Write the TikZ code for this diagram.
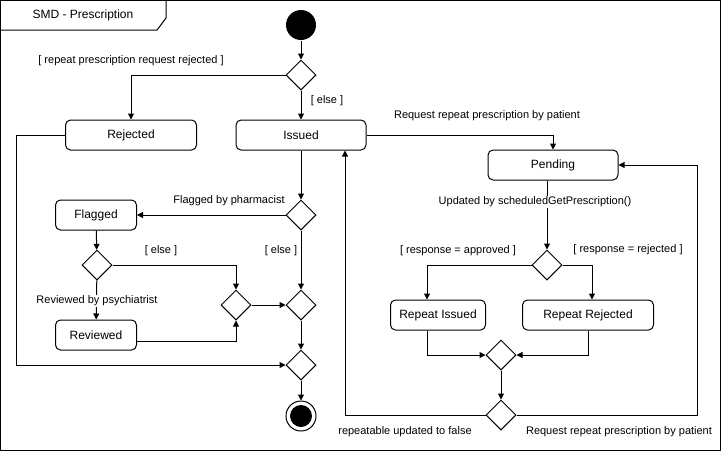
\documentclass[tikz,border=0pt]{standalone}
\usepackage{fontspec}
\setmainfont{Liberation Sans}
\usetikzlibrary{arrows.meta,shapes.geometric}
\tikzset{
  actbox/.style={draw, rounded corners=5pt, minimum height=30pt, inner sep=2pt, font=\fontsize{12}{14}\selectfont},
  decide/.style={draw, diamond, inner sep=0pt, minimum width=30pt, minimum height=30pt},
  lbl/.style={font=\fontsize{11}{13}\selectfont, inner sep=1pt},
  flow/.style={-{Triangle[length=6pt,width=6pt]}},
}
\begin{document}
\begin{tikzpicture}[x=1pt, y=-1pt, line width=1pt]
			\useasboundingbox (0,0) rectangle (721,451);
			\draw (0.5,0.5) rectangle (720.5,450.5);
			\draw (0.5,30) -- (157,30) -- (166,18) -- (166,0.5);
			\node[font=\fontsize{12}{14}\selectfont] (title) at (83,15) {SMD - Prescription};

			\node[circle, fill, minimum size=30pt, inner sep=0pt] (start) at (301,25) {};
			\node[decide] (d1) at (301,75) {};
			\node[actbox, minimum width=131pt] (rej) at (131,135) {Rejected};
			\node[actbox, minimum width=130pt] (iss) at (301,135) {Issued};
			\node[actbox, minimum width=130pt] (pend) at (553,165) {Pending};
			\node[decide] (d2) at (301,215) {};
			\node[actbox, minimum width=81pt] (flag) at (96,215) {Flagged};
			\node[decide] (d3) at (97,265) {};
			\node[actbox, minimum width=81pt] (rev) at (96,335) {Reviewed};
			\node[decide] (m1) at (236,305) {};
			\node[decide] (m2) at (301,305) {};
			\node[decide] (m3) at (301,365) {};
			\node[circle, draw, minimum size=30pt, inner sep=0pt] (stop) at (301,416) {};
			\node[circle, fill, minimum size=22pt, inner sep=0pt] (stopdot) at (stop) {};

			\node[decide] (d4) at (547,265) {};
			\node[actbox, minimum width=95pt] (rissue) at (438,315) {Repeat Issued};
			\node[actbox, minimum width=131pt] (rrej) at (588,315) {Repeat Rejected};
			\node[decide] (m4) at (501,355) {};
			\node[decide] (d5) at (501,415) {};

			\draw[flow] (start) -- (d1);
			\draw[flow] (d1) -- (iss);
			\draw[flow] (d1.west) -| (rej);
			\draw[flow] (iss.east) -| (pend);
			\draw[flow] (iss) -- (d2);
			\draw[flow] (d2.west) -- (flag.east);
			\draw[flow] (flag) -- (d3);
			\draw[flow] (d3) -- (rev);
			\draw[flow] (d3.east) -| (m1);
			\draw[flow] ([yshift=-6pt]rev.east) -| (m1.south);
			\draw[flow] (m1) -- (m2);
			\draw[flow] (d2) -- (m2);
			\draw[flow] (m2) -- (m3);
			\draw[flow] (rej.west) -- ++(-49,0) |- (m3.west);
			\draw[flow] (m3) -- (stop);

			\draw[flow] (pend.south -| d4) -- (d4);
			\draw[flow] (d4.west) -| ([xshift=-11pt]rissue.north);
			\draw[flow] (d4.east) -| ([xshift=4pt]rrej.north);
			\draw[flow] ([xshift=-11pt]rissue.south) |- (m4.west);
			\draw[flow] (rrej.south) |- (m4.east);
			\draw[flow] (m4) -- (d5);
			\draw[flow] (d5.west) -| ([xshift=44pt]iss.south);
			\draw[flow] (d5.east) -- ++(181,0) |- (pend.east);

			\node[lbl] (l1) at (131,61) {[ repeat prescription request rejected ]};
			\node[lbl] (l2) at (327,101) {[ else ]};
			\node[lbl] (l3) at (487,116) {Request repeat prescription by patient};
			\node[lbl] (l4) at (229,201) {Flagged by pharmacist};
			\node[lbl] (l5) at (161,251) {[ else ]};
			\node[lbl] (l6) at (281,251) {[ else ]};
			\node[lbl, fill=white] (l7) at (97,301) {Reviewed by psychiatrist};
			\node[lbl, fill=white] (l8) at (535,202) {Updated by scheduledGetPrescription()};
			\node[lbl] (l9) at (458,251) {[ response = approved ]};
			\node[lbl] (l10) at (628,250) {[ response = rejected ]};
			\node[lbl] (l11) at (405,432) {repeatable updated to false};
			\node[lbl] (l12) at (619,432) {Request repeat prescription by patient};
		\end{tikzpicture}
\end{document}
